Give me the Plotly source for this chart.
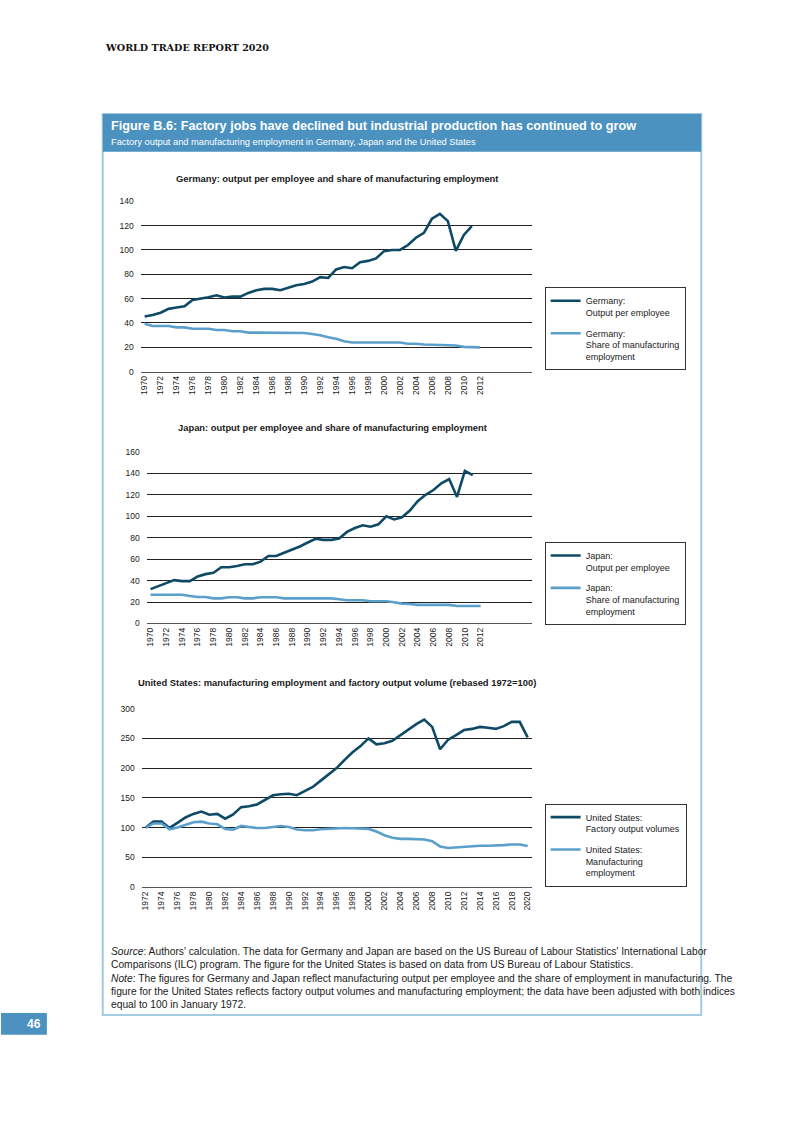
import plotly.graph_objects as go

# ---------------- data ----------------
years_gj = list(range(1970, 2012))          # 1970..2011
de_output = [45.4, 46.5, 48.4, 51.6, 52.7, 53.8, 59.0, 59.8, 61.2, 62.8,
             60.9, 61.7, 61.7, 64.7, 66.9, 68.0, 68.0, 66.9, 69.0, 71.0,
             72.0, 74.0, 77.7, 77.0, 84.0, 86.0, 85.0, 90.0, 91.0, 93.0,
             99.0, 100.0, 100.0, 104.0, 110.0, 114.0, 125.6, 129.6, 123.7, 99.2,
             112.3, 119.6]
years_share = list(range(1970, 2013))       # 1970..2012
de_share = [39.4, 37.5, 37.5, 37.5, 36.4, 36.4, 35.3, 35.3, 35.3, 34.2,
            34.2, 33.2, 33.2, 32.1, 32.0, 32.0, 32.0, 32.0, 32.0, 32.0,
            31.8, 31.0, 30.0, 28.3, 27.0, 25.0, 24.0, 24.0, 24.0, 24.0,
            24.0, 24.0, 24.0, 23.0, 23.0, 22.3, 22.0, 22.0, 22.0, 21.5,
            20.4, 20.0, 20.0]
jp_output = [32.0, 34.5, 37.6, 40.4, 39.5, 39.5, 43.8, 46.0, 47.2, 52.4,
             52.4, 53.6, 55.2, 55.2, 57.7, 62.9, 62.9, 66.0, 68.8, 71.8,
             75.5, 79.0, 78.0, 78.0, 79.2, 85.4, 89.0, 91.6, 90.3, 92.5,
             99.9, 97.0, 99.0, 105.4, 114.0, 120.0, 124.5, 130.7, 134.7, 118.0,
             142.4, 138.4]
jp_share = [26.8, 26.8, 26.8, 26.8, 26.8, 25.6, 24.7, 24.7, 23.4, 23.4,
            24.4, 24.4, 23.4, 23.4, 24.4, 24.4, 24.4, 23.4, 23.4, 23.4,
            23.4, 23.4, 23.4, 23.4, 22.5, 21.6, 21.6, 21.6, 20.7, 20.7,
            20.7, 19.7, 18.5, 18.2, 17.3, 17.3, 17.3, 17.3, 17.3, 16.3,
            16.3, 16.3, 16.3]
years_us = list(range(1972, 2021))          # 1972..2020
us_output = [100.0, 110.0, 110.0, 99.4, 108.0, 117.0, 123.0, 127.0, 121.7, 123.0,
             115.0, 122.0, 134.4, 136.0, 139.0, 146.7, 154.4, 156.0, 157.0, 154.4,
             161.7, 168.3, 179.0, 190.0, 200.0, 213.9, 226.7, 237.0, 250.0, 240.0,
             242.0, 246.0, 255.6, 265.6, 274.0, 281.7, 269.4, 231.7, 247.8, 255.6,
             264.0, 266.0, 269.4, 268.0, 266.0, 270.6, 277.8, 277.8, 251.7]
us_employment = [100.0, 107.0, 107.0, 97.0, 100.0, 105.0, 109.0, 110.0, 107.0, 105.6,
                 97.8, 96.7, 102.8, 101.0, 99.4, 99.4, 101.0, 102.8, 101.0, 96.7,
                 95.6, 95.6, 97.2, 98.3, 98.3, 99.4, 99.0, 97.8, 97.8, 93.3,
                 87.2, 82.8, 81.0, 81.0, 81.0, 80.0, 77.2, 68.3, 65.6, 66.7,
                 68.3, 68.3, 69.4, 69.4, 70.6, 70.6, 71.7, 71.7, 68.9]

ticks_gj = list(range(1970, 2013, 2))
ticks_us = list(range(1972, 2021, 2))

DARK = "#0e4a66"
LIGHT = "#5b9fcb"
FONT = "Liberation Sans, Arial, sans-serif"
W, H = 793, 1122


def px_x(v):
    return v / W


def px_y(v):
    return 1 - v / H


fig = go.Figure()

series = [
    (years_gj, de_output, "Germany:<br>Output per employee", DARK, "x", "y", "legend", "g1"),
    (years_share, de_share, "Germany:<br>Share of manufacturing<br>employment", LIGHT, "x", "y", "legend", "g2"),
    (years_gj, jp_output, "Japan:<br>Output per employee", DARK, "x2", "y2", "legend2", "j1"),
    (years_share, jp_share, "Japan:<br>Share of manufacturing<br>employment", LIGHT, "x2", "y2", "legend2", "j2"),
    (years_us, us_output, "United States:<br>Factory output volumes", DARK, "x3", "y3", "legend3", "u1"),
    (years_us, us_employment, "United States:<br>Manufacturing<br>employment", LIGHT, "x3", "y3", "legend3", "u2"),
]
for xs, ys, name, col, xa, ya, lg, grp in series:
    fig.add_trace(go.Scatter(x=xs, y=ys, mode="lines", name=name, legendgroup=grp,
                             line=dict(color=col, width=2.6), xaxis=xa, yaxis=ya, legend=lg))

tickfont = dict(family=FONT, size=8.5, color="#1a1a1a")


def xax(domain, rng, ticks, anchor):
    return dict(domain=domain, range=rng, tickmode="array", tickvals=ticks,
                ticktext=[str(t) for t in ticks], tickangle=-90, showgrid=False,
                zeroline=False, showline=True, linecolor="#555", linewidth=1,
                ticks="", tickfont=dict(family=FONT, size=8.5, color="#1a1a1a"),
                anchor=anchor, fixedrange=True)


def yax(domain, rng, dtick, anchor):
    return dict(domain=domain, range=rng, dtick=dtick, showgrid=True, gridcolor="#222",
                gridwidth=1, zeroline=False, showline=False, ticks="",
                tickfont=tickfont, anchor=anchor, ticklabelstandoff=6, fixedrange=True)


legend_common = dict(xref="paper", yref="paper", xanchor="left", yanchor="top",
                     bgcolor="white", bordercolor="#333", borderwidth=1,
                     font=dict(family=FONT, size=9, color="#1a1a1a"),
                     valign="top", itemwidth=30, tracegroupgap=6, traceorder="grouped")

fig.update_layout(
    width=W, height=H, margin=dict(l=0, r=0, t=0, b=0),
    paper_bgcolor="white", plot_bgcolor="white",
    xaxis=xax([px_x(140), px_x(532)], [1969.5, 2018.5], ticks_gj, "y"),
    yaxis=yax([px_y(370), px_y(198)], [0, 140], 20, "x"),
    xaxis2=xax([px_x(146), px_x(532)], [1969.5, 2018.5], ticks_gj, "y2"),
    yaxis2=yax([px_y(624), px_y(451)], [0, 160], 20, "x2"),
    xaxis3=xax([px_x(141), px_x(532)], [1971.5, 2020.5], ticks_us, "y3"),
    yaxis3=yax([px_y(890), px_y(710)], [0, 300], 50, "x3"),
    legend=dict(x=px_x(545), y=px_y(285), **legend_common),
    legend2=dict(x=px_x(545), y=px_y(542), **legend_common),
    legend3=dict(x=px_x(545), y=px_y(806), **legend_common),
    showlegend=True,
)

shapes = [
    # figure box
    dict(type="rect", xref="paper", yref="paper", x0=px_x(102), x1=px_x(702), y0=px_y(1019), y1=px_y(110),
         line=dict(color="#a3cbe2", width=2), fillcolor="rgba(0,0,0,0)", layer="below"),
    # header band
    dict(type="rect", xref="paper", yref="paper", x0=px_x(102), x1=px_x(702), y0=px_y(148), y1=px_y(110),
         line=dict(width=0), fillcolor="#4c92c0", layer="below"),
    # page number box
    dict(type="rect", xref="paper", yref="paper", x0=0, x1=px_x(46), y0=px_y(1039), y1=px_y(1017),
         line=dict(width=0), fillcolor="#4c92c0", layer="below"),
]
fig.update_layout(shapes=shapes)

ann = []


def text(x, y, t, size, color="#1a1a1a", bold=False, family=FONT, xanchor="left", yanchor="middle"):
    ann.append(dict(xref="paper", yref="paper", x=px_x(x), y=px_y(y), text=(f"<b>{t}</b>" if bold else t),
                    showarrow=False, xanchor=xanchor, yanchor=yanchor, align="left",
                    font=dict(family=family, size=size, color=color)))


text(102, 43, "WORLD TRADE REPORT 2020", 9.6, color="#111", bold=True, family="DejaVu Serif, serif")
text(108, 122, "Figure B.6: Factory jobs have declined but industrial production has continued to grow", 12.7,
     color="white", bold=True)
text(108, 138, "Factory output and manufacturing employment in Germany, Japan and the United States", 9.3,
     color="white")
text(337, 175, "Germany: output per employee and share of manufacturing employment", 9.4, bold=True,
     xanchor="center")
text(332, 426, "Japan: output per employee and share of manufacturing employment", 9.4, bold=True,
     xanchor="center")
text(337, 684, "United States: manufacturing employment and factory output volume (rebased 1972=100)", 9.4,
     bold=True, xanchor="center")

src_lines = [
    "<i>Source</i>: Authors' calculation. The data for Germany and Japan are based on the US Bureau of Labour Statistics' International Labor",
    "Comparisons (ILC) program. The figure for the United States is based on data from US Bureau of Labour Statistics.",
    "<i>Note</i>: The figures for Germany and Japan reflect manufacturing output per employee and the share of employment in manufacturing. The",
    "figure for the United States reflects factory output volumes and manufacturing employment; the data have been adjusted with both indices",
    "equal to 100 in January 1972.",
]
for t, y in zip(src_lines, [955, 968, 982, 995, 1008]):
    text(108, y, t, 10.25)

text(42, 1028, "46", 12, color="white", bold=True, xanchor="right")

fig.update_layout(annotations=ann)

fig.write_html("out.html", config={"displayModeBar": False},
               post_script="document.body.style.margin='0';document.body.style.overflow='hidden';")
